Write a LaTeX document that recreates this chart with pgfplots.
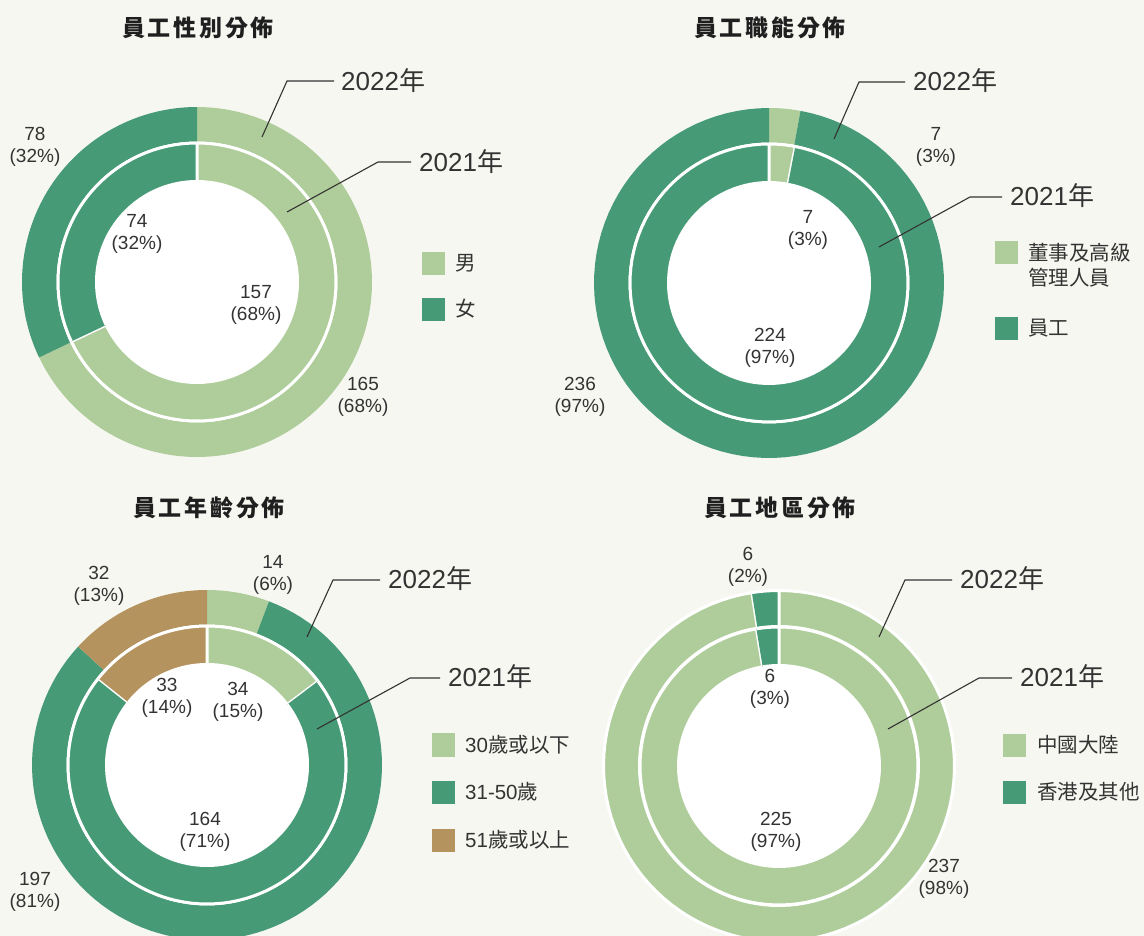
\documentclass[border=0pt]{standalone}
\usepackage{fontspec}
\setmainfont{Liberation Sans}
\newfontfamily\cjk{Noto Sans CJK TC}
\newfontfamily\cjkt[LetterSpace=12]{Noto Sans CJK TC}
\usepackage{pgfplots}
\usepackage{pgfplotstable}
\pgfplotsset{compat=1.18}
\definecolor{lg}{HTML}{AFCD9B}
\definecolor{dg}{HTML}{469B76}
\definecolor{tanc}{HTML}{B4935F}
\definecolor{bgc}{HTML}{F7F7F1}
\definecolor{txt}{HTML}{333333}

% counts: first row = 2022 (outer ring), second row = 2021 (inner ring)
\pgfplotstableread{
year male female
2022 165 78
2021 157 74
}\gendertab
\pgfplotstableread{
year mgmt staff
2022 7 236
2021 7 224
}\functab
\pgfplotstableread{
year under30 mid over51
2022 14 197 32
2021 34 164 33
}\agetab
\pgfplotstableread{
year mainland hkother
2022 237 6
2021 225 6
}\regiontab

\newcommand{\getv}[4]{\pgfplotstablegetelem{#2}{#3}\of#1\xdef#4{\pgfplotsretval}}

% ring segment: cx cy Router Rinner cumStart cumEnd total fill stroke
\newcommand{\seg}[9]{%
\addplot[fill=#8, draw=#9, line width=3pt, line join=round, domain=0:2.02, samples=203, variable=\t]
 ({#1+(#3-(#3-#4)*min(max((\t-1)/0.02,0),1))*cos(90-360/#7*(#5+(#6-#5)*(min(\t,1)-max(\t-1.02,0))))},
  {#2-(#3-(#3-#4)*min(max((\t-1)/0.02,0),1))*sin(90-360/#7*(#5+(#6-#5)*(min(\t,1)-max(\t-1.02,0))))});}
\newcommand{\disk}[3]{\addplot[fill=white, draw=none, domain=0:360, samples=145] ({#1+#3*cos(x)},{#2-#3*sin(x)});}

\tikzset{
 lab/.style={align=center, text=txt, font=\fontsize{19}{22}\selectfont, inner sep=0pt},
 yr/.style={anchor=west, text=txt, font=\fontsize{26}{30}\selectfont, inner sep=0pt},
 leg/.style={anchor=west, text=txt, align=left, font=\cjk\fontsize{20.5}{25}\selectfont, inner sep=0pt},
 ttl/.style={text=black!88, font=\cjkt\bfseries\fontsize{23}{26}\selectfont, inner sep=0pt},
 ld/.style={draw=txt, line width=1.1pt}
}

\begin{document}
\begin{tikzpicture}
\getv\gendertab{0}{male}\gOa \getv\gendertab{0}{female}\gOb
\getv\gendertab{1}{male}\gIa \getv\gendertab{1}{female}\gIb
\pgfmathsetmacro\gOt{\gOa+\gOb}\pgfmathsetmacro\gIt{\gIa+\gIb}
\getv\functab{0}{mgmt}\fOa \getv\functab{0}{staff}\fOb
\getv\functab{1}{mgmt}\fIa \getv\functab{1}{staff}\fIb
\pgfmathsetmacro\fOt{\fOa+\fOb}\pgfmathsetmacro\fIt{\fIa+\fIb}
\getv\agetab{0}{under30}\aOa \getv\agetab{0}{mid}\aOb \getv\agetab{0}{over51}\aOc
\getv\agetab{1}{under30}\aIa \getv\agetab{1}{mid}\aIb \getv\agetab{1}{over51}\aIc
\pgfmathsetmacro\aOab{\aOa+\aOb}\pgfmathsetmacro\aOt{\aOa+\aOb+\aOc}
\pgfmathsetmacro\aIab{\aIa+\aIb}\pgfmathsetmacro\aIt{\aIa+\aIb+\aIc}
\getv\regiontab{0}{mainland}\rOa \getv\regiontab{0}{hkother}\rOb
\getv\regiontab{1}{mainland}\rIa \getv\regiontab{1}{hkother}\rIb
\pgfmathsetmacro\rOt{\rOa+\rOb}\pgfmathsetmacro\rIt{\rIa+\rIb}
\begin{axis}[scale only axis, width=1144pt, height=936pt,
  xmin=0, xmax=1144, ymin=0, ymax=936, y dir=reverse,
  hide axis, clip=true]
\fill[bgc] (axis cs:0,0) rectangle (axis cs:1144,936);

% ---- gender
\disk{197}{282}{140.5}
\seg{197}{282}{175}{140.5}{0}{\gOa}{\gOt}{lg}{none}
\seg{197}{282}{175}{140.5}{\gOa}{\gOt}{\gOt}{dg}{none}
\seg{197}{282}{139}{100.5}{0}{\gIa}{\gIt}{lg}{white}
\seg{197}{282}{139}{100.5}{\gIa}{\gIt}{\gIt}{dg}{white}
% ---- function
\disk{769}{283}{140.5}
\seg{769}{283}{175}{140.5}{0}{\fOa}{\fOt}{lg}{none}
\seg{769}{283}{175}{140.5}{\fOa}{\fOt}{\fOt}{dg}{none}
\seg{769}{283}{139}{100.5}{0}{\fIa}{\fIt}{lg}{white}
\seg{769}{283}{139}{100.5}{\fIa}{\fIt}{\fIt}{dg}{white}
% ---- age
\disk{207}{765}{140.5}
\seg{207}{765}{175}{140.5}{0}{\aOa}{\aOt}{lg}{none}
\seg{207}{765}{175}{140.5}{\aOa}{\aOab}{\aOt}{dg}{none}
\seg{207}{765}{175}{140.5}{\aOab}{\aOt}{\aOt}{tanc}{none}
\seg{207}{765}{139}{100.5}{0}{\aIa}{\aIt}{lg}{white}
\seg{207}{765}{139}{100.5}{\aIa}{\aIab}{\aIt}{dg}{white}
\seg{207}{765}{139}{100.5}{\aIab}{\aIt}{\aIt}{tanc}{white}
% ---- region
\disk{779}{766}{140.5}
\seg{779}{766}{175.5}{139.5}{0}{\rOa}{\rOt}{lg}{white}
\seg{779}{766}{175.5}{139.5}{\rOa}{\rOt}{\rOt}{dg}{white}
\seg{779}{766}{139}{100.5}{0}{\rIa}{\rIt}{lg}{white}
\seg{779}{766}{139}{100.5}{\rIa}{\rIt}{\rIt}{dg}{white}

% ---- titles
\node[ttl] at (axis cs:198,28) {員工性別分佈};
\node[ttl] at (axis cs:770,28) {員工職能分佈};
\node[ttl] at (axis cs:209,508) {員工年齡分佈};
\node[ttl] at (axis cs:780,508) {員工地區分佈};

% ---- value labels
\node[lab] at (axis cs:35,147) {78\\(32\%)};
\node[lab] at (axis cs:137,234) {74\\(32\%)};
\node[lab] at (axis cs:256,305) {157\\(68\%)};
\node[lab] at (axis cs:363,397) {165\\(68\%)};

\node[lab] at (axis cs:936,147) {7\\(3\%)};
\node[lab] at (axis cs:808,230) {7\\(3\%)};
\node[lab] at (axis cs:770,348) {224\\(97\%)};
\node[lab] at (axis cs:580,397) {236\\(97\%)};

\node[lab] at (axis cs:273,575) {14\\(6\%)};
\node[lab] at (axis cs:99,586) {32\\(13\%)};
\node[lab] at (axis cs:167,698) {33\\(14\%)};
\node[lab] at (axis cs:238,702) {34\\(15\%)};
\node[lab] at (axis cs:205,832) {164\\(71\%)};
\node[lab] at (axis cs:35,892) {197\\(81\%)};

\node[lab] at (axis cs:748,567) {6\\(2\%)};
\node[lab] at (axis cs:770,689) {6\\(3\%)};
\node[lab] at (axis cs:776,832) {225\\(97\%)};
\node[lab] at (axis cs:944,879) {237\\(98\%)};

% ---- leader lines and year labels
\draw[ld] (axis cs:262,137) -- (axis cs:287,81) -- (axis cs:334,81);
\node[yr] at (axis cs:341,81) {2022{\cjk 年}};
\draw[ld] (axis cs:287,212) -- (axis cs:378,162) -- (axis cs:411,162);
\node[yr] at (axis cs:419,162) {2021{\cjk 年}};

\draw[ld] (axis cs:834,139) -- (axis cs:859,82) -- (axis cs:905,82);
\node[yr] at (axis cs:913,81) {2022{\cjk 年}};
\draw[ld] (axis cs:879,247) -- (axis cs:970,197) -- (axis cs:1002,197);
\node[yr] at (axis cs:1010,196) {2021{\cjk 年}};

\draw[ld] (axis cs:307,637) -- (axis cs:333,580) -- (axis cs:380,580);
\node[yr] at (axis cs:388,579) {2022{\cjk 年}};
\draw[ld] (axis cs:317,729) -- (axis cs:410,678) -- (axis cs:440,678);
\node[yr] at (axis cs:448,677) {2021{\cjk 年}};

\draw[ld] (axis cs:879,637) -- (axis cs:905,580) -- (axis cs:952,580);
\node[yr] at (axis cs:960,579) {2022{\cjk 年}};
\draw[ld] (axis cs:888,729) -- (axis cs:979,678) -- (axis cs:1012,678);
\node[yr] at (axis cs:1020,677) {2021{\cjk 年}};

% ---- legends
\fill[lg] (axis cs:422,252) rectangle (axis cs:445,275);
\fill[dg] (axis cs:422,298) rectangle (axis cs:445,321);
\node[leg] at (axis cs:455,263) {男};
\node[leg] at (axis cs:455,309) {女};

\fill[lg] (axis cs:995,241) rectangle (axis cs:1018,264);
\fill[dg] (axis cs:995,317) rectangle (axis cs:1018,340);
\node[leg] at (axis cs:1028,265) {董事及高級\\管理人員};
\node[leg] at (axis cs:1028,328) {員工};

\fill[lg] (axis cs:432,733) rectangle (axis cs:455,757);
\fill[dg] (axis cs:432,781) rectangle (axis cs:455,804);
\fill[tanc] (axis cs:432,829) rectangle (axis cs:455,852);
\node[leg] at (axis cs:465,745) {{\rmfamily 30}歲或以下};
\node[leg] at (axis cs:465,792) {{\rmfamily 31-50}歲};
\node[leg] at (axis cs:465,840) {{\rmfamily 51}歲或以上};

\fill[lg] (axis cs:1003,734) rectangle (axis cs:1026,757);
\fill[dg] (axis cs:1003,781) rectangle (axis cs:1026,804);
\node[leg] at (axis cs:1037,745) {中國大陸};
\node[leg] at (axis cs:1037,792) {香港及其他};
\end{axis}
\end{tikzpicture}
\end{document}
